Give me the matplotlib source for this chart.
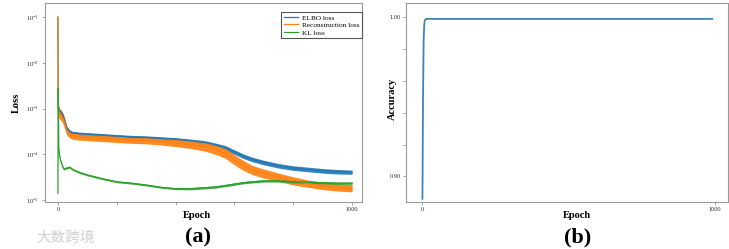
import numpy as np
import matplotlib
matplotlib.use("Agg")
import matplotlib.pyplot as plt
from matplotlib.ticker import FixedLocator, FuncFormatter

plt.rcParams['font.family'] = ['Liberation Serif', 'DejaVu Serif']
plt.rcParams['mathtext.fontset'] = 'custom'
plt.rcParams['mathtext.rm'] = 'Liberation Serif'

# loss curves, log10 of the value
epochs = [0, 1, 3, 6, 10, 15, 20, 30, 40, 50, 75, 100, 150, 200, 250, 300, 350,
          400, 450, 500, 540, 570, 600, 630, 660, 700, 750, 800, 850, 900, 950, 1000]
elbo_log = [-1.0, -2.9, -3.0, -3.05, -3.08, -3.12, -3.2, -3.42, -3.5, -3.53, -3.55,
            -3.56, -3.58, -3.60, -3.62, -3.63, -3.65, -3.67, -3.70, -3.74, -3.80,
            -3.86, -3.95, -4.04, -4.11, -4.18, -4.25, -4.30, -4.33, -4.36, -4.38, -4.39]
recon_log = [-1.0, -3.0, -3.08, -3.12, -3.14, -3.18, -3.26, -3.48, -3.56, -3.6, -3.62,
             -3.63, -3.65, -3.67, -3.69, -3.70, -3.72, -3.75, -3.78, -3.83, -3.90,
             -3.98, -4.12, -4.24, -4.34, -4.42, -4.50, -4.58, -4.64, -4.69, -4.72, -4.74]
kl_log = [-4.85, -2.55, -3.85, -4.05, -4.15, -4.25, -4.32, -4.30, -4.28, -4.33, -4.40,
          -4.45, -4.53, -4.60, -4.63, -4.67, -4.72, -4.75, -4.75, -4.73, -4.71,
          -4.68, -4.65, -4.62, -4.60, -4.58, -4.58, -4.60, -4.61, -4.62, -4.63, -4.63]
# half width of the noisy band (decades)
elbo_spread = [0, 0, 0.04, 0.04, 0.04, 0.04, 0.04, 0.04, 0.035, 0.035, 0.035, 0.035,
               0.035, 0.035, 0.035, 0.035, 0.035, 0.035, 0.035, 0.04, 0.04, 0.05, 0.05,
               0.05, 0.05, 0.05, 0.05, 0.05, 0.05, 0.05, 0.05, 0.045]
recon_spread = [0, 0, 0.12, 0.12, 0.12, 0.12, 0.12, 0.1, 0.08, 0.07, 0.07, 0.07, 0.07,
                0.07, 0.07, 0.07, 0.075, 0.08, 0.09, 0.1, 0.11, 0.11, 0.11, 0.11, 0.1,
                0.1, 0.09, 0.09, 0.08, 0.08, 0.08, 0.08]
kl_spread = [0, 0, 0, 0.02, 0.02, 0.02, 0.02, 0.02, 0.02, 0.02, 0.02, 0.02, 0.02, 0.02,
             0.02, 0.02, 0.02, 0.02, 0.025, 0.025, 0.025, 0.025, 0.025, 0.025, 0.025,
             0.025, 0.025, 0.025, 0.025, 0.025, 0.025, 0.025]

# accuracy curve, panel (b)
acc_epochs = [0, 2, 4, 6, 8, 12, 20, 50, 200, 400, 600, 800, 990]
accuracy = [0.886, 0.95, 0.985, 0.995, 0.998, 0.999, 0.999, 0.999, 0.999, 0.999,
            0.999, 0.999, 0.999]

spine_col = '#9a9a9a'

fig = plt.figure(figsize=(7.29, 2.49), dpi=100)
ax1 = fig.add_axes([0.0617, 0.189, 0.435, 0.799])
ax2 = fig.add_axes([0.557, 0.189, 0.4417, 0.799])

ep = np.array(epochs)
series = [
    (elbo_log, elbo_spread, '#1f77b4', 'ELBO loss'),
    (recon_log, recon_spread, '#ff7f0e', 'Reconstruction loss'),
    (kl_log, kl_spread, '#2ca02c', 'KL loss'),
]
for c, s, col, lab in series:
    c = np.array(c)
    s = np.array(s)
    ax1.fill_between(ep, 10 ** (c - s), 10 ** (c + s), color=col, lw=0, alpha=0.9)
    ax1.plot(ep, 10 ** c, color=col, lw=0.9, label=lab)

ax1.set_yscale('log')
ax1.set_ylim(10 ** -5.04, 10 ** -0.69)
ax1.set_xlim(-44, 1034)
ax1.yaxis.set_major_locator(FixedLocator([1e-5, 1e-4, 1e-3, 1e-2, 1e-1]))
ax1.yaxis.set_minor_locator(FixedLocator([]))
ax1.xaxis.set_major_locator(FixedLocator([0, 200, 400, 600, 800, 1000]))
ax1.xaxis.set_major_formatter(FuncFormatter(lambda v, p: f'{v:.0f}' if v in (0, 1000) else ''))
ax1.set_xlabel('Epoch', fontsize=7.5, fontweight='bold')
ax1.xaxis.set_label_coords(0.48, -0.045)
ax1.set_ylabel('Loss', fontsize=7.5, fontweight='bold')
ax1.yaxis.set_label_coords(-0.076, 0.5)

leg = ax1.legend(loc='upper right', bbox_to_anchor=(1.0, 0.955), fontsize=5.2,
                 fancybox=False, framealpha=1, edgecolor='#555555',
                 handlelength=1.9, labelspacing=0.2, borderpad=0.35,
                 handletextpad=0.6, borderaxespad=0.0)
leg.get_frame().set_linewidth(0.8)

ax2.plot(acc_epochs, accuracy, color='#3f84ba', lw=1.3)
ax2.set_ylim(0.884, 1.009)
ax2.set_xlim(-56, 1044)
ax2.yaxis.set_major_locator(FixedLocator([0.90, 0.92, 0.94, 0.96, 0.98, 1.00]))
ax2.yaxis.set_major_formatter(FuncFormatter(lambda v, p: f'{v:.2f}' if abs(v - 0.9) < 1e-6 or abs(v - 1.0) < 1e-6 else ''))
ax2.xaxis.set_major_locator(FixedLocator([0, 1000]))
ax2.set_xlabel('Epoch', fontsize=7.5, fontweight='bold')
ax2.xaxis.set_label_coords(0.53, -0.045)
ax2.set_ylabel('Accuracy', fontsize=7.5, fontweight='bold')
ax2.yaxis.set_label_coords(-0.027, 0.52)

for ax in (ax1, ax2):
    for sp in ax.spines.values():
        sp.set_color(spine_col)
        sp.set_linewidth(0.8)
    ax.tick_params(which='both', length=2, width=0.6, color=spine_col,
                   labelsize=4.6, pad=2, labelcolor='#333333')

fig.text(0.271, 0.045, '(a)', fontsize=16, fontweight='bold', ha='center', va='center')
fig.text(0.793, 0.045, '(b)', fontsize=16, fontweight='bold', ha='center', va='center')
fig.text(0.05, 0.045, '大数跨境', fontsize=10.5, color='#cfcfcf', ha='left', va='center',
         family=['Noto Sans CJK SC', 'DejaVu Sans'])

fig.savefig('out.png', dpi=100)
